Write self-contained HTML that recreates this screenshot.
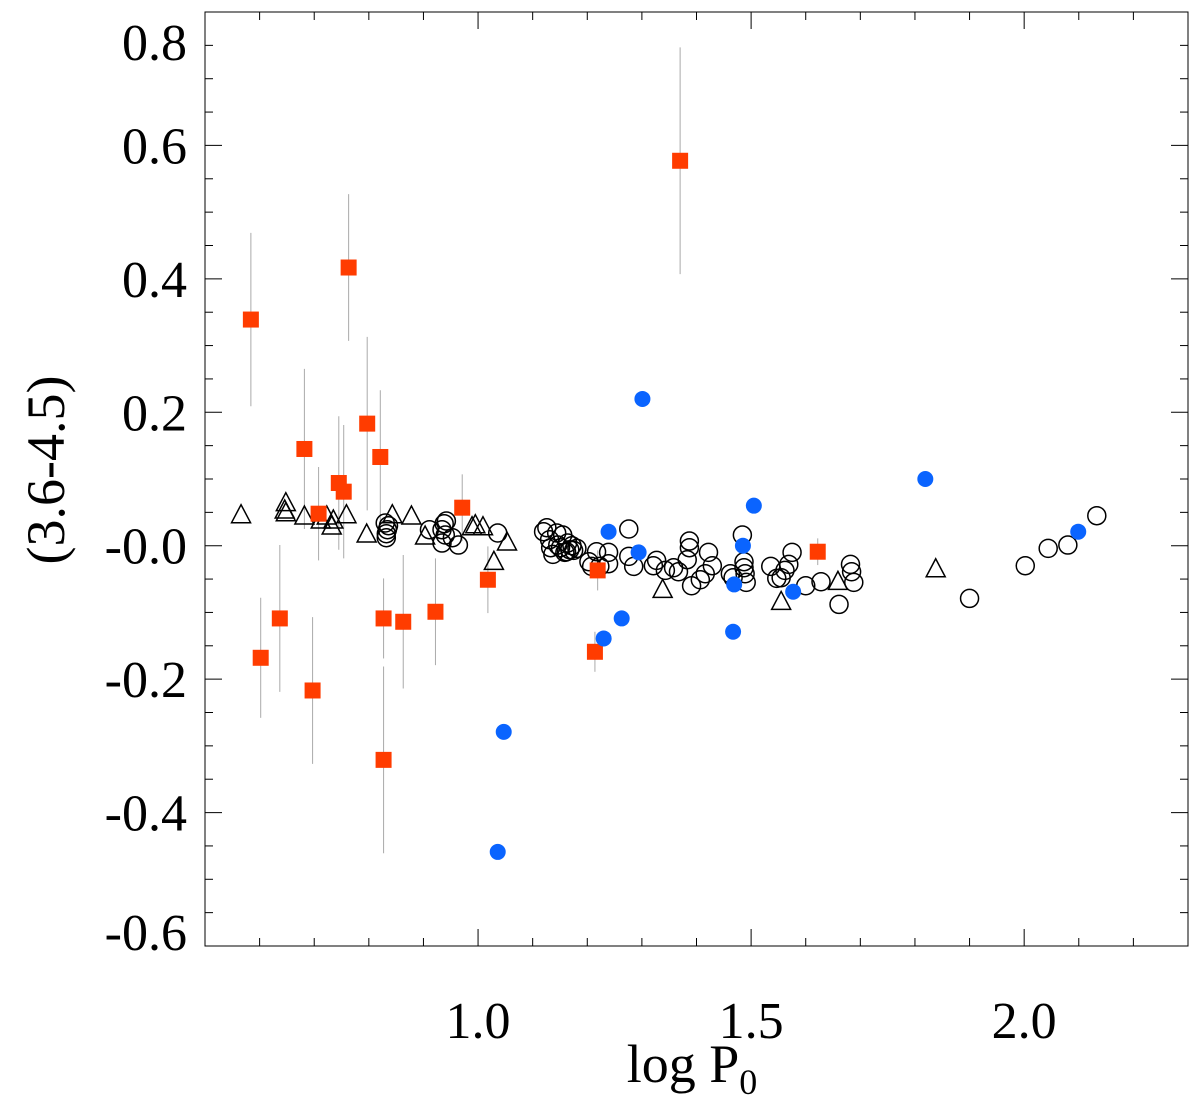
<!DOCTYPE html>
<html><head><meta charset="utf-8"><style>
body{margin:0;background:#fff}
svg{display:block;font-family:"Liberation Serif",serif}
</style></head><body>
<svg id="chart" width="1200" height="1100" xmlns="http://www.w3.org/2000/svg">
<g id="marks"></g>
<g id="axes"></g>
<text x="692" y="1082" font-size="54" text-anchor="middle">log P<tspan font-size="36" dy="12">0</tspan></text>
<text transform="translate(64,470) rotate(-90)" font-size="54" text-anchor="middle">(3.6-4.5)</text>
</svg>
<script>
const xTicks=[1.0,1.5,2.0];
const xTickLabels=["1.0","1.5","2.0"];
const yTicks=[0.8,0.6,0.4,0.2,0,-0.2,-0.4,-0.6];
const yTickLabels=["0.8","0.6","0.4","0.2","-0.0","-0.2","-0.4","-0.6"];
const redX=[0.584,0.602,0.637,0.682,0.697,0.708,0.745,0.754,0.763,0.797,0.821,0.827,0.827,0.863,0.922,0.971,1.018,1.219,1.214,1.370,1.622];
const redY=[0.339,-0.168,-0.109,0.145,-0.217,0.048,0.094,0.081,0.417,0.183,0.133,-0.109,-0.321,-0.114,-0.099,0.057,-0.051,-0.037,-0.159,0.577,-0.009];
const redErr=[0.13,0.09,0.11,0.12,0.11,0.07,0.10,0.10,0.11,0.13,0.10,0.06,0.14,0.10,0.08,0.05,0.05,0.03,0.03,0.17,0.02];
const blueX=[1.047,1.036,1.239,1.230,1.263,1.294,1.301,1.469,1.467,1.485,1.505,1.577,1.819,2.099];
const blueY=[-0.279,-0.459,0.021,-0.139,-0.109,-0.010,0.220,-0.058,-0.129,0.000,0.060,-0.069,0.100,0.021];
const openX=[0.830,0.834,0.832,0.836,0.832,0.911,0.934,0.938,0.942,0.940,0.934,0.964,0.953,1.036,1.120,1.126,1.131,1.133,1.144,1.146,1.151,1.155,1.159,1.164,1.168,1.172,1.175,1.181,1.137,1.162,1.203,1.208,1.217,1.223,1.239,1.239,1.276,1.276,1.285,1.321,1.327,1.343,1.358,1.367,1.383,1.387,1.387,1.391,1.407,1.416,1.422,1.429,1.462,1.467,1.484,1.487,1.489,1.491,1.487,1.536,1.547,1.555,1.562,1.569,1.575,1.600,1.628,1.661,1.682,1.684,1.688,1.900,2.002,2.044,2.080,2.133];
const openY=[0.034,0.024,0.012,0.030,0.018,0.024,0.024,0.033,0.037,0.016,0.004,0.001,0.012,0.019,0.021,0.027,0.009,-0.003,0.019,0.001,-0.003,0.016,-0.010,0.004,-0.006,0.000,-0.007,-0.004,-0.013,-0.009,-0.024,-0.031,-0.009,-0.031,-0.010,-0.027,0.025,-0.016,-0.031,-0.030,-0.022,-0.037,-0.033,-0.039,-0.021,0.007,-0.003,-0.060,-0.051,-0.042,-0.010,-0.030,-0.042,-0.048,0.016,-0.033,-0.042,-0.055,-0.024,-0.031,-0.049,-0.048,-0.037,-0.028,-0.010,-0.060,-0.054,-0.088,-0.028,-0.039,-0.055,-0.079,-0.030,-0.004,0.001,0.045];
const triX=[0.566,0.648,0.648,0.646,0.682,0.712,0.723,0.732,0.735,0.759,0.796,0.843,0.878,0.903,0.989,0.995,1.009,1.029,1.053,1.338,1.555,1.659,1.838];
const triY=[0.045,0.063,0.048,0.052,0.043,0.037,0.043,0.028,0.037,0.045,0.016,0.045,0.043,0.013,0.027,0.030,0.027,-0.025,0.004,-0.067,-0.085,-0.055,-0.036];

const L=205,R=1188,T=12,B=946,X0=0.5,X1=2.3,Y0=-0.6,Y1=0.8;
const sx=v=>L+(v-X0)/(X1-X0)*(R-L);
const sy=v=>B-(v-Y0)/(Y1-Y0)*(B-T);
const NS="http://www.w3.org/2000/svg";
const marks=document.getElementById('marks'),axes=document.getElementById('axes');
function mk(tag,attrs,parent){const e=document.createElementNS(NS,tag);for(const k in attrs)e.setAttribute(k,attrs[k]);parent.appendChild(e);return e;}

redX.forEach((x,i)=>{
  const e=mk('line',{x1:sx(x),x2:sx(x),y1:sy(redY[i]+redErr[i]),y2:sy(redY[i]-redErr[i]),stroke:'#aaa','stroke-width':1},marks);
  
  
});
openX.forEach((x,i)=>{
  const e=mk('circle',{cx:sx(x),cy:sy(openY[i]),r:9,fill:'none',stroke:'#000','stroke-width':1.5},marks);
  
  
});
triX.forEach((x,i)=>{
  const cx=sx(x),cy=sy(triY[i]);
  const e=mk('polygon',{points:`${cx},${cy-11} ${cx-9.5},${cy+7} ${cx+9.5},${cy+7}`,fill:'none',stroke:'#000','stroke-width':1.5},marks);
  
  
});
redX.forEach((x,i)=>{
  const e=mk('rect',{x:sx(x)-8,y:sy(redY[i])-8,width:16,height:16,fill:'#ff3c00'},marks);
  
  
});
blueX.forEach((x,i)=>{
  const e=mk('circle',{cx:sx(x),cy:sy(blueY[i]),r:8,fill:'#0a64ff'},marks);
  
  
});

const f=mk('rect',{x:L,y:T,width:R-L,height:B-T,fill:'none',stroke:'#000','stroke-width':1},axes);


for(let k=6;k<=22;k++){
  const v=k/10,x=sx(v),major=(k%5===0),len=major?17:8;
  mk('line',{x1:x,x2:x,y1:B,y2:B-len,stroke:'#000'},axes);
  mk('line',{x1:x,x2:x,y1:T,y2:T+len,stroke:'#000'},axes);
}
xTicks.forEach((v,i)=>{
  const t=mk('text',{x:sx(v),y:B+92,'font-size':52,'text-anchor':'middle'},axes);
  t.textContent=xTickLabels[i];
  
  
});
for(let k=-12;k<=16;k++){
  const v=k/20,y=sy(v),major=(k%4===0),len=major?17:8;
  mk('line',{x1:L,x2:L+len,y1:y,y2:y,stroke:'#000'},axes);
  mk('line',{x1:R,x2:R-len,y1:y,y2:y,stroke:'#000'},axes);
}
yTicks.forEach((v,i)=>{
  let yy=sy(v)+18;
  if(v===0.8) yy=60;
  if(v===-0.6) yy=950;
  const t=mk('text',{x:187,y:yy,'font-size':52,'text-anchor':'end'},axes);
  t.textContent=yTickLabels[i];
  
  
});
</script>
</body></html>
